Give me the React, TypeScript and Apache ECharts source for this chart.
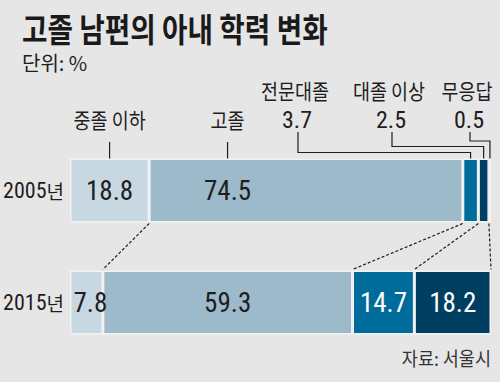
import React, { useEffect, useRef } from "react";
import * as echarts from "echarts";

const categories = ["2005년", "2015년"];
const groups = ["중졸 이하", "고졸", "전문대졸", "대졸 이상", "무응답"];
const values2005 = [18.8, 74.5, 3.7, 2.5, 0.5];
const values2015 = [7.8, 59.3, 14.7, 18.2, 0];
const yearValues = [values2005, values2015];

const colors = ["#c7d8e3", "#9dbacb", "#006c9b", "#003f61", "#e6e6e6"];
const textColors = ["#1e1e1e", "#1e1e1e", "#ffffff", "#ffffff", "#1e1e1e"];
const BG = "#e6e6e6";
const NUM_FONT = "'Roboto Condensed', 'Noto Sans CJK KR', sans-serif";
const KR_FONT = "'Noto Sans CJK KR', sans-serif";

// label anchor shift inside a segment (fraction of segment width)
const labelShift: Record<string, number> = { "고졸|2005년": 0.25, "중졸 이하|2015년": 0.62 };
// layout for the small-segment callouts
const calloutX: Record<string, number> = { 전문대졸: 295, "대졸 이상": 389, 무응답: 467 };
const calloutElbowY: Record<string, number> = { 전문대졸: 152.5, "대졸 이상": 146.5, 무응답: 141 };

export default function App() {
  const ref = useRef<HTMLDivElement>(null);
  useEffect(() => {
    document.body.style.margin = "0";
    const chart = echarts.init(ref.current!, null, { renderer: "svg" });
    const series = groups.map((g, gi) => ({
      name: g,
      type: "bar",
      stack: "total",
      barWidth: 64,
      itemStyle: { color: colors[gi], borderColor: "#f2f2f2", borderWidth: 1.5 },
      label: {
        fontFamily: NUM_FONT,
        fontSize: 27,
        color: textColors[gi],
        formatter: (p: any) => Number(p.value).toFixed(1),
      },
      data: categories.map((c, ci) => {
        const v = yearValues[ci][gi];
        const shift = labelShift[`${g}|${c}`];
        return {
          value: v,
          itemStyle: { borderWidth: v > 0 ? 1.5 : 0 },
          label: {
            show: v >= 5,
            position: shift != null ? [`${shift * 100}%`, "50%"] : "inside",
            align: "center",
            verticalAlign: "middle",
          },
        };
      }),
    }));

    chart.setOption({
      animation: false,
      backgroundColor: BG,
      grid: { left: 70, right: 9, top: 134.5, bottom: 23.5, outerBoundsMode: "none", containLabel: false },
      xAxis: { type: "value", min: 0, max: 100, show: false },
      yAxis: {
        type: "category",
        data: categories,
        inverse: true,
        axisLine: { show: false },
        axisTick: { show: false },
        axisLabel: {
          margin: 6,
          formatter: (v: string) => `{d|${v.replace("년", "")}}{k|년}`,
          rich: {
            d: { fontFamily: NUM_FONT, fontSize: 22, color: "#1e1e1e" },
            k: { fontFamily: KR_FONT, fontSize: 19, color: "#1e1e1e" },
          },
        },
      },
      series,
    });

    const px = (v: number) => chart.convertToPixel({ xAxisIndex: 0 }, v) as number;
    const py = (c: string) => chart.convertToPixel({ yAxisIndex: 0 }, c) as number;
    const half = 32;
    const top05 = py(categories[0]) - half;
    const bot05 = py(categories[0]) + half;
    const top15 = py(categories[1]) - half;

    const cum = (arr: number[]) => {
      let s = 0;
      return arr.map((v) => (s += v));
    };
    const cum05 = cum(values2005);
    const cum15 = cum(values2015);

    const graphics: any[] = [
      {
        type: "text",
        x: 22,
        y: 28,
        scaleX: 0.84,
        style: { text: "고졸 남편의 아내 학력 변화", font: `bold 33px ${KR_FONT}`, fill: "#1a1a1a", verticalAlign: "middle" },
      },
      {
        type: "text",
        x: 22,
        y: 62,
        style: { text: "단위: %", font: `20px ${KR_FONT}`, fill: "#1e1e1e", verticalAlign: "middle" },
      },
      {
        type: "text",
        x: 491,
        y: 358,
        scaleX: 0.92,
        style: { text: "자료: 서울시", font: `19px ${KR_FONT}`, fill: "#333", align: "right", verticalAlign: "middle" },
      },
    ];

    const lineStyle = { stroke: "#1e1e1e", lineWidth: 1.2, fill: null };
    const lineEnd = top05 + 6;
    const nameText = (text: string, x: number, y: number) => ({
      type: "text",
      x,
      y,
      scaleX: 0.88,
      style: { text, font: `21px ${KR_FONT}`, fill: "#1e1e1e", align: "center", verticalAlign: "middle" },
    });

    groups.forEach((g, gi) => {
      const v = values2005[gi];
      const start = gi === 0 ? 0 : cum05[gi - 1];
      const shift = labelShift[`${g}|${categories[0]}`] ?? 0.5;
      const target = px(start + v * shift);
      if (v >= 5) {
        graphics.push(nameText(g, target, 119));
        graphics.push({ type: "polyline", shape: { points: [[target, 142], [target, lineEnd]] }, style: lineStyle });
      } else {
        const lx = calloutX[g];
        const ey = calloutElbowY[g];
        graphics.push(nameText(g, lx, 90));
        graphics.push({
          type: "text",
          x: lx + 2,
          y: 120,
          style: { text: v.toFixed(1), font: `24px ${NUM_FONT}`, fill: "#1e1e1e", align: "center", verticalAlign: "middle" },
        });
        graphics.push({
          type: "polyline",
          shape: { points: [[lx + 3, 132], [lx + 3, ey], [target, ey], [target, gi === 4 ? top05 + 2 : lineEnd]] },
          style: lineStyle,
        });
      }
    });

    for (let gi = 0; gi < 4; gi++) {
      graphics.push({
        type: "line",
        shape: { x1: px(cum05[gi]), y1: bot05 + 1, x2: px(cum15[gi]), y2: top15 - 1 },
        style: { stroke: "#1e1e1e", lineWidth: 1.2, lineDash: [3, 2] },
      });
    }

    chart.setOption({ graphic: graphics });
    return () => chart.dispose();
  }, []);
  return <div ref={ref} style={{ width: 500, height: 382, position: "fixed", left: 0, top: 0 }} />;
}
